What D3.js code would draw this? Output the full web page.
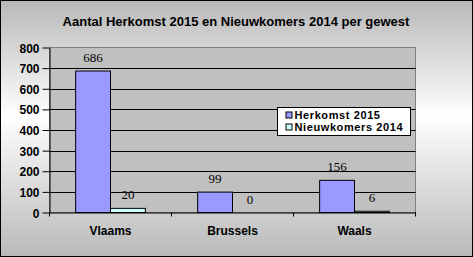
<!DOCTYPE html>
<html>
<head>
<meta charset="utf-8">
<script src="https://cdn.jsdelivr.net/npm/d3@7"></script>
<style>
html,body{margin:0;padding:0;background:#fff;}
svg{display:block;}
</style>
</head>
<body>
<svg id="chart" width="473" height="257"></svg>
<script>
const title = "Aantal Herkomst 2015 en Nieuwkomers 2014 per gewest";
const categories = ["Vlaams", "Brussels", "Waals"];
const seriesNames = ["Herkomst 2015", "Nieuwkomers 2014"];
const herkomst2015 = [686, 99, 156];
const nieuwkomers2014 = [20, 0, 6];
const yTicks = [0, 100, 200, 300, 400, 500, 600, 700, 800];
const colors = ["#9999FF", "#CCFFFF"];

(function () {
const seriesValues = [herkomst2015, nieuwkomers2014];
const svg = d3.select("#chart");
const W = 473, H = 257;

// background gradient
const defs = svg.append("defs");
const grad = defs.append("linearGradient").attr("id", "bg")
  .attr("x1", 0).attr("y1", 0).attr("x2", 0).attr("y2", 1);
grad.append("stop").attr("offset", "0%").attr("stop-color", "#b8b8b8");
grad.append("stop").attr("offset", "45%").attr("stop-color", "#ffffff");
grad.append("stop").attr("offset", "100%").attr("stop-color", "#b9b9b9");
svg.append("rect").attr("x", 0.5).attr("y", 0.5).attr("width", W - 1).attr("height", H - 1)
  .attr("fill", "url(#bg)").attr("stroke", "#000").attr("stroke-width", 1);

// title
svg.append("text").attr("x", 236).attr("y", 26).attr("text-anchor", "middle")
  .attr("font-family", "Arial, 'Liberation Sans', sans-serif").attr("font-weight", "bold")
  .attr("font-size", "13px").attr("fill", "#000").text(title);

const pL = 49.5, pR = 415.5, pT = 47.5, pB = 212.5;
const x0 = d3.scaleBand().domain(categories).range([pL, pR]).padding(0);
const x1 = d3.scaleBand().domain(seriesNames).range([0, x0.bandwidth()]).paddingInner(0).paddingOuter(0.75);
const y = d3.scaleLinear().domain([0, 800]).range([pB, pT]);

// plot area
svg.append("rect").attr("x", pL).attr("y", pT).attr("width", pR - pL).attr("height", pB - pT)
  .attr("fill", "#c0c0c0").attr("stroke", "#808080").attr("stroke-width", 1);

// gridlines
svg.append("g").selectAll("line").data(yTicks.filter(t => t > 0 && t < 800)).join("line")
  .attr("x1", pL).attr("x2", pR)
  .attr("y1", d => Math.round(y(d)) + 0.5).attr("y2", d => Math.round(y(d)) + 0.5)
  .attr("stroke", "#000").attr("stroke-width", 1);

// y axis
const yAxis = d3.axisLeft(y).tickValues(yTicks).tickSize(7).tickSizeOuter(0).tickPadding(3);
const gy = svg.append("g").attr("transform", `translate(${pL},0)`).call(yAxis);
gy.select(".domain").attr("stroke", "#000");
gy.selectAll(".tick line").attr("stroke", "#000");
gy.selectAll(".tick text").attr("font-family", "Arial, 'Liberation Sans', sans-serif")
  .attr("font-weight", "bold").attr("font-size", "12px").attr("fill", "#000").attr("dy", "0.38em");

// bars
const data = [];
categories.forEach((c, i) => seriesNames.forEach((s, j) => data.push({c, s, j, v: seriesValues[j][i]})));
const gb = svg.append("g");
gb.selectAll("rect").data(data).join("rect")
  .attr("x", d => x0(d.c) + x1(d.s))
  .attr("y", d => y(d.v))
  .attr("width", x1.bandwidth())
  .attr("height", d => pB - y(d.v))
  .attr("fill", d => colors[d.j])
  .attr("stroke", "#000").attr("stroke-width", 1);

// data labels
gb.selectAll("text").data(data).join("text")
  .attr("x", d => x0(d.c) + x1(d.s) + x1.bandwidth() / 2)
  .attr("y", d => y(d.v) - 9)
  .attr("text-anchor", "middle")
  .attr("font-family", "'Times New Roman', 'Liberation Serif', serif")
  .attr("font-size", "13px").attr("fill", "#000")
  .text(d => d.v);

// x axis
const xAxis = d3.axisBottom(x0).tickSize(0).tickPadding(14);
const gx = svg.append("g").attr("transform", `translate(0,${pB})`).call(xAxis);
gx.select(".domain").attr("stroke", "#000");
gx.selectAll(".tick text").attr("font-family", "Arial, 'Liberation Sans', sans-serif")
  .attr("font-weight", "bold").attr("font-size", "12px").attr("fill", "#000");
// category boundary ticks
const bounds = categories.map(c => x0(c)).concat([x0(categories[categories.length - 1]) + x0.bandwidth()]);
svg.append("g").selectAll("line").data(bounds).join("line")
  .attr("x1", d => Math.round(d) - 0.5).attr("x2", d => Math.round(d) - 0.5)
  .attr("y1", pB).attr("y2", pB + 4)
  .attr("stroke", "#000");

// legend
const lg = svg.append("g").attr("transform", "translate(277.5,107.5)");
lg.append("rect").attr("width", 133).attr("height", 28).attr("fill", "#fff").attr("stroke", "#000");
seriesNames.forEach((s, i) => {
  lg.append("rect").attr("x", 8.5).attr("y", 4.5 + i * 12).attr("width", 6).attr("height", 6)
    .attr("fill", colors[i]).attr("stroke", "#000");
  lg.append("text").attr("x", 17).attr("y", 11.5 + i * 12)
    .attr("font-family", "Arial, 'Liberation Sans', sans-serif").attr("font-weight", "bold")
    .attr("font-size", "11px").attr("letter-spacing", "0.6px").attr("fill", "#000").text(s);
});
})();
</script>
</body>
</html>
